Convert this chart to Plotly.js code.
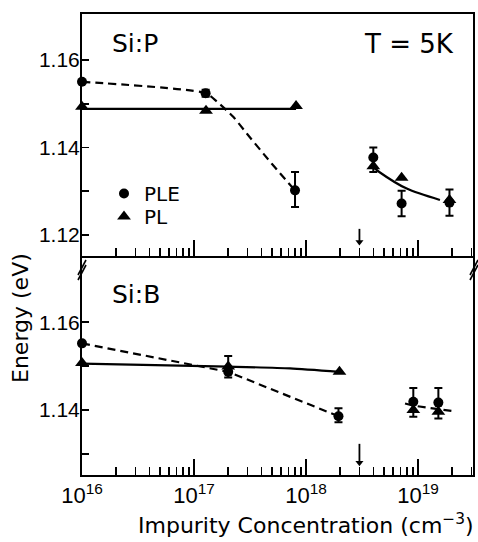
<!DOCTYPE html>
<html>
<head>
<meta charset="utf-8">
<script src="https://cdn.plot.ly/plotly-3.0.1.min.js"></script>
<style>html,body{margin:0;padding:0;background:#fff;}#chart{width:478px;height:542px;}</style>
</head>
<body>
<div id="chart"></div>
<script>
// ---------- Data ----------
// Si:P (top panel)
const pPleX = [1e16, 1.27e17, 7.98e17, 3.99e18, 7.14e18, 1.91e19];
const pPleY = [1.1550, 1.1524, 1.1302, 1.1377, 1.1272, 1.1274];
const pPleErrPlus  = [NaN, 0.0008, 0.0042, 0.0023, 0.0029, 0.0030];
const pPleErrMinus = [NaN, 0.0008, 0.0038, 0.0033, 0.0029, 0.0030];
const pPlX = [1e16, 1.28e17, 8.15e17, 3.99e18, 7.14e18, 1.91e19];
const pPlY = [1.1493, 1.1484, 1.1495, 1.1357, 1.1331, 1.1280];
// guide curves drawn in the figure
const pDashX = [1e16, 1.27e17, 1.60e17, 2.24e17, 2.96e17, 4.16e17, 5.86e17, 7.98e17];
const pDashY = [1.1550, 1.1524, 1.1505, 1.1470, 1.1432, 1.1386, 1.1341, 1.1302];
const pSolidX = [1e16, 8.15e17];
const pSolidY = [1.1488, 1.1488];
const pCurveX = [3.99e18, 4.51e18, 7.93e18, 1.57e19];
const pCurveY = [1.1355, 1.1344, 1.1306, 1.1280];

// Si:B (bottom panel)
const bPleX = [1e16, 2.02e17, 1.95e18, 9.08e18, 1.52e19];
const bPleY = [1.1552, 1.1487, 1.1386, 1.1419, 1.1417];
const bPleErrPlus  = [NaN, 0.0036, 0.0018, 0.0031, 0.0033];
const bPleErrMinus = [NaN, 0.0013, 0.0014, 0.0034, 0.0036];
const bPlX = [1e16, 2.02e17, 1.99e18, 9.08e18, 1.52e19];
const bPlY = [1.1507, 1.1499, 1.1487, 1.1400, 1.1396];
const bDashX = [1e16, 2.02e17, 1.95e18];
const bDashY = [1.1552, 1.1487, 1.1386];
const bSolidX = [1e16, 2.02e17, 7.2e17, 1.99e18];
const bSolidY = [1.1506, 1.1499, 1.1495, 1.1487];
const bRightX = [7.66e18, 9.08e18, 1.52e19, 2.0e19];
const bRightY = [1.1415, 1.1410, 1.1402, 1.1398];

// critical concentration marker (arrows): x, tail energy, tip energy
const arrowConc = [3e18, 3e18];
const arrowTopY = [1.1214, 1.1184];
const arrowBotY = [1.1323, 1.1280];

// axis ticks
const xMajor = [1e16, 1e17, 1e18, 1e19];
const xMajorText = ['10<sup>16</sup>', '10<sup>17</sup>', '10<sup>18</sup>', '10<sup>19</sup>'];
const xMinor = [];
[1e16, 1e17, 1e18, 1e19].forEach(d => { for (let k = 2; k <= 9; k++) xMinor.push(k * d); });
const yTopMajor = [1.12, 1.14, 1.16];
const yTopMinor = [1.13, 1.15];
const yBotMajor = [1.14, 1.16];
const yBotMinor = [1.13, 1.15];

// ---------- Layout helpers ----------
const W = 478, H = 542;
const L = 82, R = 5, T = 14, B = 67;
const pw = W - L - R, ph = H - T - B;
const px = p => (p - L) / pw;          // pixel x -> paper
const py = p => (H - B - p) / ph;      // pixel y -> paper
const split = py(256);

const FONT = 'Liberation Sans, Arial, sans-serif';
const FONT2 = 'DejaVu Sans, Liberation Sans, sans-serif';
const black = '#000';

const lineStyle = (dash) => ({color: black, width: 2.2, dash: dash});
const dashPat = '8px,5px';

const traces = [
  // top panel
  {x: pDashX, y: pDashY, xaxis: 'x2', yaxis: 'y2', mode: 'lines', line: Object.assign(lineStyle(dashPat), {shape: 'spline', smoothing: 0.6}), showlegend: false, hoverinfo: 'skip', cliponaxis: false},
  {x: pSolidX, y: pSolidY, xaxis: 'x2', yaxis: 'y2', mode: 'lines', line: lineStyle('solid'), showlegend: false, hoverinfo: 'skip', cliponaxis: false},
  {x: pCurveX, y: pCurveY, xaxis: 'x2', yaxis: 'y2', mode: 'lines', line: Object.assign(lineStyle('solid'), {shape: 'spline', smoothing: 0.8}), showlegend: false, hoverinfo: 'skip'},
  {x: pPleX, y: pPleY, xaxis: 'x2', yaxis: 'y2', mode: 'markers', name: 'PLE', legend: 'legend', cliponaxis: false,
   marker: {symbol: 'circle', size: 10, color: black},
   error_y: {type: 'data', symmetric: false, array: pPleErrPlus, arrayminus: pPleErrMinus, color: black, thickness: 2, width: 4}},
  {x: pPlX, y: pPlY, xaxis: 'x2', yaxis: 'y2', mode: 'markers', name: 'PL', legend: 'legend2', cliponaxis: false,
   marker: {symbol: 'triangle-up', size: 12, color: black}},
  {x: arrowConc, y: arrowTopY, xaxis: 'x2', yaxis: 'y2', mode: 'lines', line: {color: black, width: 1.8}, showlegend: false, hoverinfo: 'skip'},
  {x: [arrowConc[1]], y: [arrowTopY[1]], xaxis: 'x2', yaxis: 'y2', mode: 'markers', marker: {symbol: 'triangle-down', size: 7, color: black}, showlegend: false, hoverinfo: 'skip'},
  // bottom panel
  {x: bDashX, y: bDashY, xaxis: 'x', yaxis: 'y', mode: 'lines', line: lineStyle(dashPat), showlegend: false, hoverinfo: 'skip', cliponaxis: false},
  {x: bSolidX, y: bSolidY, xaxis: 'x', yaxis: 'y', mode: 'lines', line: Object.assign(lineStyle('solid'), {shape: 'spline', smoothing: 0.6}), showlegend: false, hoverinfo: 'skip', cliponaxis: false},
  {x: bRightX, y: bRightY, xaxis: 'x', yaxis: 'y', mode: 'lines', line: lineStyle(dashPat), showlegend: false, hoverinfo: 'skip'},
  {x: bPleX, y: bPleY, xaxis: 'x', yaxis: 'y', mode: 'markers', name: 'PLE', showlegend: false, cliponaxis: false,
   marker: {symbol: 'circle', size: 10, color: black},
   error_y: {type: 'data', symmetric: false, array: bPleErrPlus, arrayminus: bPleErrMinus, color: black, thickness: 2, width: 4}},
  {x: bPlX, y: bPlY, xaxis: 'x', yaxis: 'y', mode: 'markers', name: 'PL', showlegend: false, cliponaxis: false,
   marker: {symbol: 'triangle-up', size: 12, color: black}},
  {x: arrowConc, y: arrowBotY, xaxis: 'x', yaxis: 'y', mode: 'lines', line: {color: black, width: 1.8}, showlegend: false, hoverinfo: 'skip'},
  {x: [arrowConc[1]], y: [arrowBotY[1]], xaxis: 'x', yaxis: 'y', mode: 'markers', marker: {symbol: 'triangle-down', size: 7, color: black}, showlegend: false, hoverinfo: 'skip'}
];

const xCommon = {
  type: 'log', range: [16, 16 + pw / 112],
  tickmode: 'array', tickvals: xMajor, ticktext: xMajorText,
  ticks: 'inside', ticklen: 16, tickwidth: 1.6, tickcolor: black,
  minor: {tickmode: 'array', tickvals: xMinor, ticks: 'inside', ticklen: 8, tickwidth: 1.6, tickcolor: black, showgrid: false},
  showline: true, linewidth: 2, linecolor: black,
  showgrid: false, zeroline: false,
  tickfont: {family: FONT, size: 22, color: black}
};

const yCommon = {
  ticks: 'inside', ticklen: 7, tickwidth: 1.6, tickcolor: black,
  showline: true, linewidth: 2, linecolor: black, mirror: true,
  showgrid: false, zeroline: false, tickmode: 'array',
  tickfont: {family: FONT, size: 21, color: black},
  ticklabelstandoff: -4
};

const brk = (x0, y0, x1, y1) => ({type: 'line', xref: 'paper', yref: 'paper',
  x0: px(x0), y0: py(y0), x1: px(x1), y1: py(y1), line: {color: black, width: 1.6}});

const legendBase = {xanchor: 'left', yanchor: 'top', bgcolor: 'rgba(0,0,0,0)',
  font: {family: FONT2, size: 20, color: black}, itemwidth: 30};

const layout = {
  width: W, height: H,
  margin: {l: L, r: R, t: T, b: B},
  paper_bgcolor: '#fff', plot_bgcolor: '#fff',
  font: {family: FONT, color: black},
  xaxis: Object.assign({}, xCommon, {anchor: 'y', domain: [0, 1]}),
  xaxis2: Object.assign({}, xCommon, {anchor: 'y2', matches: 'x', showticklabels: false, mirror: true}),
  yaxis: Object.assign({}, yCommon, {domain: [0, split], range: [1.1252, 1.1751], tickvals: yBotMajor,
    minor: {tickmode: 'array', tickvals: yBotMinor, ticks: 'inside', ticklen: 7, tickwidth: 1.6, tickcolor: black, showgrid: false}}),
  yaxis2: Object.assign({}, yCommon, {domain: [split, 1], range: [1.1152, 1.1705], tickvals: yTopMajor,
    minor: {tickmode: 'array', tickvals: yTopMinor, ticks: 'inside', ticklen: 7, tickwidth: 1.6, tickcolor: black, showgrid: false}}),
  showlegend: true,
  legend: Object.assign({}, legendBase, {x: px(104), y: py(174)}),
  legend2: Object.assign({}, legendBase, {x: px(104), y: py(197)}),
  annotations: [
    {text: 'Si:P', xref: 'paper', yref: 'paper', x: px(110), y: py(43), xanchor: 'left', yanchor: 'middle', showarrow: false, font: {family: FONT2, size: 25, color: black}},
    {text: 'T = 5K', xref: 'paper', yref: 'paper', x: px(456), y: py(44), xanchor: 'right', yanchor: 'middle', showarrow: false, font: {family: FONT2, size: 26, color: black}},
    {text: 'Si:B', xref: 'paper', yref: 'paper', x: px(110), y: py(294), xanchor: 'left', yanchor: 'middle', showarrow: false, font: {family: FONT2, size: 25, color: black}},
    {text: 'Energy (eV)', xref: 'paper', yref: 'paper', x: px(20), y: py(318), xanchor: 'center', yanchor: 'middle', textangle: -90, showarrow: false, font: {family: FONT2, size: 22, color: black}},
    {text: 'Impurity Concentration (cm<sup>−3</sup>)', xref: 'paper', yref: 'paper', x: px(306), y: py(524), xanchor: 'center', yanchor: 'middle', showarrow: false, font: {family: FONT2, size: 22, color: black}}
  ],
  shapes: [
    brk(78, 275, 86, 260), brk(78, 280, 86, 265),
    brk(470, 275, 478, 260), brk(470, 280, 478, 265)
  ]
};

Plotly.newPlot('chart', traces, layout, {staticPlot: true, displayModeBar: false});
</script>
</body>
</html>
